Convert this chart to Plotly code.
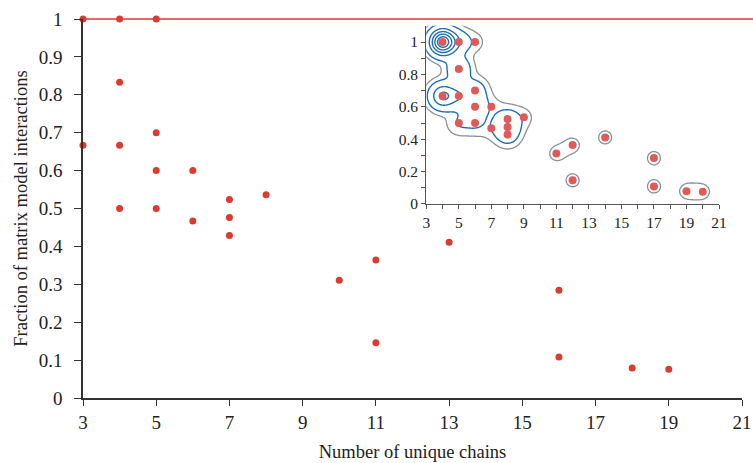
import numpy as np
import plotly.graph_objects as go

# Main scatter data (number of unique chains vs fraction of matrix model interactions)
chains = [3, 3, 4, 4, 4, 4, 5, 5, 5, 5, 6, 6, 7, 7, 7, 8, 10, 11, 11, 13, 16, 16, 18, 19]
fraction = [1.0, 0.667, 1.0, 0.833, 0.667, 0.5, 1.0, 0.7, 0.6, 0.5, 0.6, 0.467,
            0.524, 0.476, 0.429, 0.536, 0.311, 0.364, 0.146, 0.411, 0.284, 0.108, 0.079, 0.076]
# estimated multiplicity of each point (drives the density contours of the inset)
counts = [25, 12, 4, 5.5, 5, 2, 1, 4, 4, 2, 1, 1, 3, 3, 3, 1, 1, 1, 1, 1, 1, 1, 1, 1]
reference_fraction = 1.0  # horizontal reference line

inset_shift = 1  # inset bins are offset by one chain
x_ticks_main = [3, 5, 7, 9, 11, 13, 15, 17, 19, 21]
y_range = [0, 1]

RED = "#dc3b30"
INSET_RED = "#e05a58"
BLUE = "#1a6fb8"
GRAY = "#8a9099"
FONT = "Liberation Serif"

# Inset kernel density estimate from the data
ix = np.array(chains, float) + inset_shift
iy = np.array(fraction, float)
w = np.array(counts, float)
sx, sy = 8.3 / 16.3, 8.3 / 162.3
xg = np.linspace(2.0, 22.0, 500)
yg = np.linspace(-0.1, 1.25, 500)
XX, YY = np.meshgrid(xg, yg)
Z = np.zeros_like(XX)
for a, b, c in zip(ix, iy, w):
    Z += c * np.exp(-0.5 * ((XX - a) / sx) ** 2 - 0.5 * ((YY - b) / sy) ** 2)

fig = go.Figure()

# reference line (extends past the plot area to the page edge, so use paper y)
ref_paper_y = (reference_fraction - y_range[0]) / (y_range[1] - y_range[0])
fig.add_shape(type="line", xref="paper", yref="paper", x0=0, x1=1.02,
              y0=ref_paper_y, y1=ref_paper_y,
              line=dict(color=RED, width=1.5), layer="above")

fig.add_trace(go.Scatter(
    x=chains, y=fraction, mode="markers",
    marker=dict(color=RED, size=7), cliponaxis=False, hoverinfo="x+y", showlegend=False,
))

fig.add_trace(go.Contour(
    x=xg, y=yg, z=Z, xaxis="x2", yaxis="y2",
    contours=dict(coloring="none", start=0.74, end=0.74, size=1),
    line=dict(color=GRAY, width=1.3, smoothing=1), showscale=False, hoverinfo="skip",
))
fig.add_trace(go.Contour(
    x=xg, y=yg, z=Z, xaxis="x2", yaxis="y2",
    contours=dict(coloring="none", start=2.2, end=30, size=4.7),
    line=dict(color=BLUE, width=1.4, smoothing=1), showscale=False, hoverinfo="skip",
))
fig.add_trace(go.Scatter(
    x=list(ix), y=fraction, mode="markers", xaxis="x2", yaxis="y2",
    marker=dict(color=INSET_RED, size=8), hoverinfo="x+y", showlegend=False,
))

axis_common = dict(showgrid=False, zeroline=False, automargin=False)

fig.update_layout(
    width=753, height=463,
    margin=dict(l=82.5, r=11, t=18.7, b=64.7),
    paper_bgcolor="white", plot_bgcolor="white",
    font=dict(family=FONT, color="#222222", size=18.5),
    showlegend=False,
    xaxis=dict(range=[3, 21], tickvals=x_ticks_main, ticks="outside", ticklen=6, tickwidth=1.3,
               tickcolor="#333", showline=True, linecolor="#333", linewidth=1.5,
               ticklabeloverflow="allow",
               title=dict(text="Number of unique chains", standoff=14, font=dict(size=18.5)),
               tickfont=dict(size=19), **axis_common),
    yaxis=dict(range=y_range, dtick=0.1, tick0=0, ticks="outside", ticklen=7, tickwidth=1.3,
               tickcolor="#333", showline=True, linecolor="#333", linewidth=1.5,
               ticklabelstandoff=8,
               title=dict(text="Fraction of matrix model interactions", standoff=6, font=dict(size=18.5)),
               tickfont=dict(size=19), **axis_common),
    xaxis2=dict(domain=[0.5209, 0.9651], anchor="y2", range=[3, 21], dtick=2, tick0=3,
                ticks="outside", ticklen=4, tickcolor="#555", showline=True, linecolor="#555",
                linewidth=1.2, tickfont=dict(size=15.5),
                minor=dict(dtick=1, ticks="outside", ticklen=4, tickcolor="#555"), **axis_common),
    yaxis2=dict(domain=[0.5119, 0.982], anchor="x2", range=[0, 1.1], tickvals=[0, 0.2, 0.4, 0.6, 0.8, 1],
                ticks="outside", ticklen=4, tickcolor="#555", showline=True, linecolor="#555",
                linewidth=1.2, tickfont=dict(size=15.5),
                minor=dict(tickvals=[0.1, 0.3, 0.5, 0.7, 0.9], ticks="outside", ticklen=4, tickcolor="#555"),
                **axis_common),
)

# remove the default page margin so the 753x463 figure fills the window exactly
fig.write_html("out.html", config={"displayModeBar": False},
               post_script="document.body.style.margin='0';document.body.style.overflow='hidden';")
